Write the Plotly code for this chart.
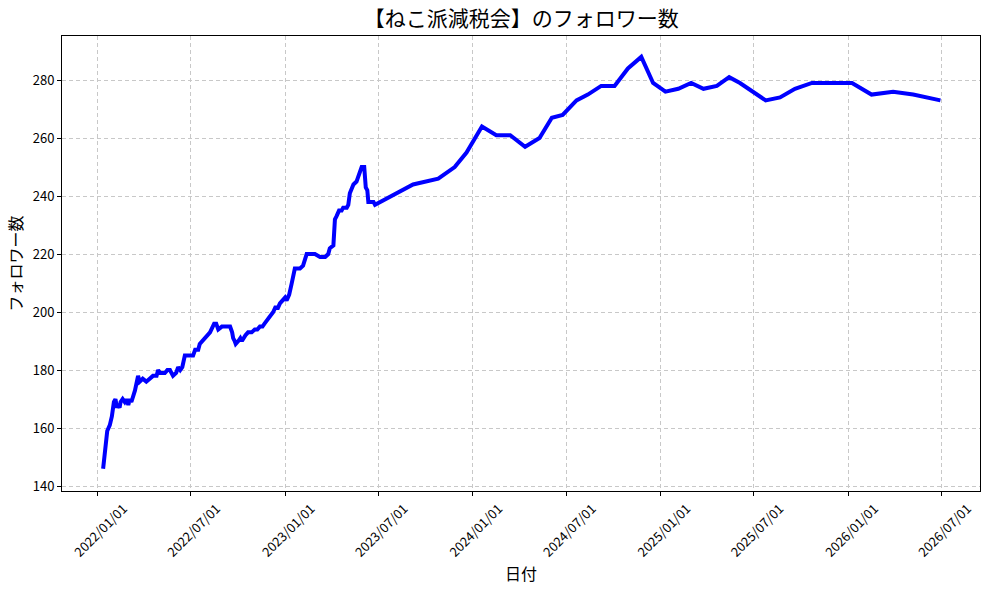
import plotly.graph_objects as go

dates = [
    "2022-01-12", "2022-01-16", "2022-01-20", "2022-01-25", "2022-01-29", "2022-02-02",
    "2022-02-05", "2022-02-08", "2022-02-10", "2022-02-13", "2022-02-15", "2022-02-19",
    "2022-02-23", "2022-02-26", "2022-03-02", "2022-03-05", "2022-03-08",
    "2022-03-15", "2022-03-21", "2022-03-24", "2022-03-30", "2022-04-06", "2022-04-13", "2022-04-19",
    "2022-04-26", "2022-04-29", "2022-05-03", "2022-05-06", "2022-05-12", "2022-05-17", "2022-05-22", "2022-05-28",
    "2022-06-03", "2022-06-07", "2022-06-11", "2022-06-15", "2022-06-20", "2022-06-30", "2022-07-06",
    "2022-07-10", "2022-07-16", "2022-07-19", "2022-07-24", "2022-07-29", "2022-08-03", "2022-08-08", "2022-08-16",
    "2022-08-20", "2022-08-24", "2022-08-31", "2022-09-12", "2022-09-16", "2022-09-20", "2022-09-22",
    "2022-09-25", "2022-09-27", "2022-10-02", "2022-10-06", "2022-10-09", "2022-10-12", "2022-10-16",
    "2022-10-21", "2022-10-28", "2022-11-03", "2022-11-08", "2022-11-13", "2022-11-18", "2022-11-22",
    "2022-11-26", "2022-12-01", "2022-12-05", "2022-12-09", "2022-12-14", "2022-12-17", "2022-12-22",
    "2022-12-27", "2023-01-01", "2023-01-04", "2023-01-09", "2023-01-14",
    "2023-01-20", "2023-01-30", "2023-02-05", "2023-02-12", "2023-02-28", "2023-03-10",
    "2023-03-20", "2023-03-26", "2023-03-29", "2023-04-05", "2023-04-08", "2023-04-11",
    "2023-04-16", "2023-04-21", "2023-04-24", "2023-05-01", "2023-05-04", "2023-05-07",
    "2023-05-14", "2023-05-20", "2023-05-27", "2023-05-30", "2023-06-04", "2023-06-07",
    "2023-06-10", "2023-06-12", "2023-06-18", "2023-06-22", "2023-06-25",
    "2023-09-07", "2023-10-26", "2023-11-27", "2023-12-20", "2024-01-19", "2024-02-16",
    "2024-03-14", "2024-04-12", "2024-05-10", "2024-06-03", "2024-06-24", "2024-07-21",
    "2024-08-12", "2024-09-07", "2024-10-03", "2024-10-29", "2024-11-24", "2024-12-17",
    "2025-01-10", "2025-02-04", "2025-03-01", "2025-03-25", "2025-04-20", "2025-05-14",
    "2025-06-04", "2025-07-24", "2025-08-21", "2025-09-19", "2025-10-22", "2026-01-08",
    "2026-02-15", "2026-03-29", "2026-05-07", "2026-06-29",
]
followers = [
    146, 153, 159, 161, 164, 169,
    170, 167, 168, 167, 169, 170,
    169, 170, 168, 170, 169,
    173, 178, 176, 177, 176, 177, 178,
    178, 180, 179, 179, 179, 180, 180, 178,
    179, 181, 180, 181, 185, 185, 185,
    187, 187, 189, 190, 191, 192, 193, 196,
    196, 194, 195, 195, 195, 193, 191,
    190, 189, 190, 191, 190, 191, 192,
    193, 193, 194, 194, 195, 195, 196,
    197, 198, 199, 200, 202, 201, 203,
    204, 205, 204, 206, 210,
    215, 215, 216, 220, 220, 219,
    219, 220, 222, 223, 232, 233,
    235, 235, 236, 236, 237, 241,
    244, 245, 248, 250, 250, 243,
    242, 238, 238, 238, 237,
    244, 246, 250, 255, 264, 261,
    261, 257, 260, 267, 268, 273,
    275, 278, 278, 284, 288, 279,
    276, 277, 279, 277, 278, 281,
    279, 273, 274, 277, 279, 279,
    275, 276, 275, 273,
]

tick_vals = ["2022-01-01", "2022-07-01", "2023-01-01", "2023-07-01", "2024-01-01",
             "2024-07-01", "2025-01-01", "2025-07-01", "2026-01-01", "2026-07-01"]
tick_text = [t.replace("-", "/") for t in tick_vals]
y_ticks = [140, 160, 180, 200, 220, 240, 260, 280]

title_text = "【ねこ派減税会】のフォロワー数"
x_title = "日付"
y_title = "フォロワー数"

FONT = "Noto Sans CJK JP"

fig = go.Figure()
fig.add_trace(go.Scatter(
    x=dates, y=followers, mode="lines",
    line=dict(color="#0000ff", width=4),
    showlegend=False,
))

axis_common = dict(
    showline=True, linecolor="black", linewidth=1, mirror=True,
    ticks="outside", ticklen=4, tickcolor="black", tickwidth=1,
    showgrid=True, gridcolor="#c8c8c8", gridwidth=1, griddash="4px,3px",
    zeroline=False,
    tickfont=dict(family=FONT, size=13, color="black"),
)

fig.update_layout(
    width=989, height=590,
    margin=dict(l=62, r=9, t=36, b=99),
    paper_bgcolor="white", plot_bgcolor="white",
    font=dict(family=FONT, color="black"),
    title=dict(text=title_text, x=0.527, xanchor="center",
               y=1 - 19 / 590, yanchor="middle", yref="container",
               font=dict(family=FONT, size=21, color="black")),
    xaxis=dict(
        axis_common,
        type="date",
        range=["2021-10-24", "2026-09-14"],
        tickvals=tick_vals, ticktext=tick_text,
        tickangle=-45, ticklabelshift=26, ticklabelstandoff=0,
        title=dict(text=x_title, font=dict(family=FONT, size=16), standoff=8),
    ),
    yaxis=dict(
        axis_common,
        range=[138.3, 295.2],
        tickvals=y_ticks,
        title=dict(text=y_title, font=dict(family=FONT, size=16), standoff=6),
    ),
)

fig.write_html("out.html")
